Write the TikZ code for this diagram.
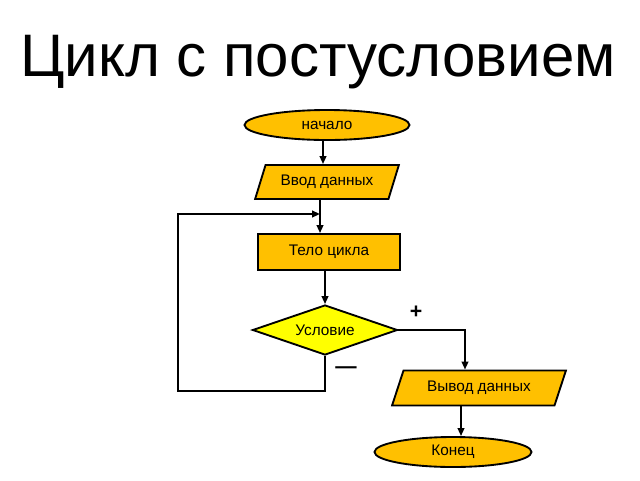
\documentclass[tikz,border=0pt]{standalone}
\usepackage{fontspec}
\setmainfont{Liberation Sans}
\usetikzlibrary{shapes.geometric,arrows.meta}
\begin{document}
\begin{tikzpicture}[x=0.75pt,y=-0.75pt,
  base/.style={draw=black,line width=1.4pt,inner sep=0pt,font=\fontsize{11.5}{13}\selectfont},
  term/.style={base,ellipse,fill=orange1},
  io/.style={base,trapezium,trapezium left angle=60,trapezium right angle=120,fill=orange1,trapezium stretches=true},
  proc/.style={base,rectangle,fill=orange1},
  dec/.style={base,diamond,fill=yellow1,aspect=2.9},
  conn/.style={line width=1.4pt,-{Triangle[length=6pt,width=5pt]}},
  line/.style={line width=1.4pt}]
\definecolor{orange1}{HTML}{FFC000}
\definecolor{yellow1}{HTML}{FFFF00}
\useasboundingbox (0,0) rectangle (640,480);
\node (title) at (318,62) {\fontsize{45}{52}\selectfont Цикл с постусловием};
\node[term,minimum width=123.75pt,minimum height=22.5pt] (start) at (327,125) {начало};
\node[io,minimum width=108.75pt,minimum height=25.5pt] (in) at (327,182) {Ввод данных};
\node[proc,minimum width=106.5pt,minimum height=27pt] (body) at (329,252) {Тело цикла};
\node[dec,minimum width=108.75pt,minimum height=37.5pt] (cond) at (325,330) {Условие};
\node[io,minimum width=131.25pt,minimum height=26.25pt] (out) at (479,388) {Вывод данных};
\node[term,minimum width=117.75pt,minimum height=22.5pt] (end) at (453,452) {Конец};
\coordinate (j) at (320,214);
\draw[conn] (start.south -| 323,0) -- (in.north -| 323,0);
\draw[conn] (in.south -| 320,0) -- (body.north -| 320,0);
\draw[conn] (body.south -| cond.north) -- (cond.north);
\draw[conn] (cond.south) -- (325,391) -- (178,391) -- (178,214) -- (j);
\draw[conn] (cond.east) -| (out.north -| 465,0);
\draw[conn] (out.south -| 461,0) -- (end.north -| 461,0);
\node at (416,312) {\fontsize{16}{18}\selectfont\bfseries +};
\node at (346,370) {\fontsize{16}{18}\selectfont\bfseries —};
\end{tikzpicture}
\end{document}
